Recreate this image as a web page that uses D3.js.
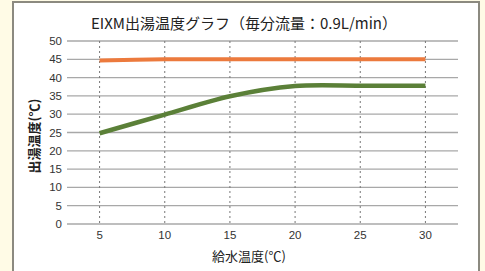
<!DOCTYPE html>
<html>
<head>
<meta charset="utf-8">
<script src="https://cdn.jsdelivr.net/npm/d3@7"></script>
<style>
  body { margin: 0; background: #fffbe6; }
  svg { display: block; }
</style>
</head>
<body>
<script>
// data
const feedTemps = [5, 10, 15, 20, 25, 30];
const setTemp = [44.7, 45, 45, 45, 45, 45];
const outTemp = [24.8, 29.9, 34.9, 37.7, 37.8, 37.8];
const yTicks = [0, 5, 10, 15, 20, 25, 30, 35, 40, 45, 50];

let w = 485, h = 271;
let svg = d3.select("body").append("svg").attr("width", w).attr("height", h);

// white panel with grey border
svg.append("rect").attr("x", 13).attr("y", 2).attr("width", 466).attr("height", h)
  .attr("fill", "#fff").attr("stroke", "#8c8a80").attr("stroke-width", 2);

const plot = { left: 67, right: 458, top: 41, bottom: 224 };

const x = d3.scaleLinear().domain([2.5, 32.5]).range([plot.left, plot.right]);
const y = d3.scaleLinear().domain([0, 50]).range([plot.bottom, plot.top]);

const font = "'Liberation Sans', Arial, sans-serif";
const jp = "'Noto Sans CJK JP', sans-serif";

// horizontal grid
svg.selectAll(".hgrid").data(yTicks).enter().append("line")
  .attr("x1", plot.left).attr("x2", plot.right)
  .attr("y1", d => y(d)).attr("y2", d => y(d))
  .attr("stroke", "#a8a8a8").attr("stroke-width", 1.3);

// vertical dotted grid
svg.selectAll(".vgrid").data(feedTemps).enter().append("line")
  .attr("x1", d => x(d)).attr("x2", d => x(d))
  .attr("y1", plot.top).attr("y2", plot.bottom)
  .attr("stroke", "#777").attr("stroke-width", 1).attr("stroke-dasharray", "2,3");

// tick labels
svg.selectAll(".ylab").data(yTicks).enter().append("text")
  .attr("x", plot.left - 5).attr("y", d => y(d)).attr("dy", "0.35em")
  .attr("text-anchor", "end").attr("font-family", font).attr("font-size", 11.5)
  .attr("fill", "#333").text(d => d);

svg.selectAll(".xlab").data(feedTemps).enter().append("text")
  .attr("x", d => x(d)).attr("y", 239)
  .attr("text-anchor", "middle").attr("font-family", font).attr("font-size", 11.5)
  .attr("fill", "#333").text(d => d);

// lines
const line = d3.line()
  .x((d, i) => x(feedTemps[i]))
  .y(d => y(d))
  .curve(d3.curveCardinal.tension(0.2));

svg.append("path").datum(setTemp)
  .attr("fill", "none").attr("stroke", "#ec7a3d").attr("stroke-width", 4)
  .attr("d", line);

svg.append("path").datum(outTemp)
  .attr("fill", "none").attr("stroke", "#5b8038").attr("stroke-width", 4.5)
  .attr("d", line);

// titles
svg.append("text").attr("x", 244).attr("y", 29)
  .attr("text-anchor", "middle").attr("font-family", jp)
  .attr("font-size", 15).attr("fill", "#222")
  .text("EIXM出湯温度グラフ（毎分流量：0.9L/min）");

svg.append("text").attr("x", 249).attr("y", 261)
  .attr("text-anchor", "middle").attr("font-family", jp)
  .attr("font-size", 13).attr("fill", "#222")
  .text("給水温度(℃)");

svg.append("text")
  .attr("transform", "translate(39,136) rotate(-90)")
  .attr("text-anchor", "middle").attr("font-family", jp)
  .attr("font-size", 13).attr("font-weight", "bold").attr("fill", "#222")
  .text("出湯温度(℃)");
</script>
</body>
</html>
